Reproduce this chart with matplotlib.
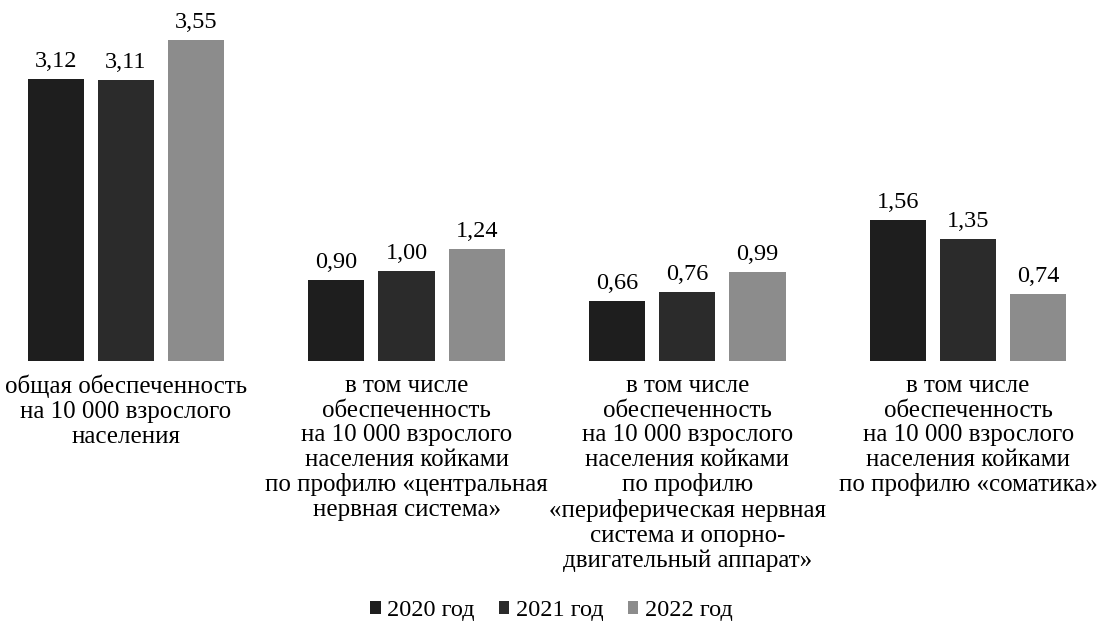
import numpy as np
import matplotlib.pyplot as plt

plt.rcParams['font.family'] = ['Liberation Serif', 'DejaVu Serif']

categories = [
    "общая обеспеченность\nна 10 000 взрослого\nнаселения",
    "в том числе\nобеспеченность\nна 10 000 взрослого\nнаселения койками\nпо профилю «центральная\nнервная система»",
    "в том числе\nобеспеченность\nна 10 000 взрослого\nнаселения койками\nпо профилю\n«периферическая нервная\nсистема и опорно-\nдвигательный аппарат»",
    "в том числе\nобеспеченность\nна 10 000 взрослого\nнаселения койками\nпо профилю «соматика»",
]
years = ["2020 год", "2021 год", "2022 год"]
v2020 = [3.12, 0.90, 0.66, 1.56]
v2021 = [3.11, 1.00, 0.76, 1.35]
v2022 = [3.55, 1.24, 0.99, 0.74]

series = [v2020, v2021, v2022]
colors = ['#1e1e1e', '#2b2b2b', '#8c8c8c']
fs = 17.5

fig = plt.figure(figsize=(11.02, 6.38), dpi=100)
ax = fig.add_axes([0, 0.434, 1, 0.566])

x = np.arange(len(categories))
width = 0.2
offsets = [-0.25, 0, 0.25]
for vals, off, col, lab in zip(series, offsets, colors, years):
    bars = ax.bar(x + off, vals, width, color=col, label=lab)
    for b, v in zip(bars, vals):
        ax.annotate(f"{v:.2f}".replace('.', ','),
                    (b.get_x() + b.get_width() / 2, v),
                    xytext=(0, 5), textcoords='offset points',
                    ha='center', va='bottom', fontsize=fs)

ax.set_xlim(-0.448, 3.477)
ax.set_ylim(0, 3.99)
ax.set_xticks(x)
ax.set_xticklabels(categories, fontsize=18, linespacing=1.15,
                   multialignment='center', va='top')
ax.tick_params(axis='x', length=0, pad=10)
ax.set_yticks([])
for s in ax.spines.values():
    s.set_visible(False)

fig.legend(loc='center', bbox_to_anchor=(0.5, 0.043), ncol=3, frameon=False,
           fontsize=fs, handlelength=0.45, handleheight=0.45,
           handletextpad=0.25, columnspacing=1.0)

fig.savefig('out.png', dpi=100)
